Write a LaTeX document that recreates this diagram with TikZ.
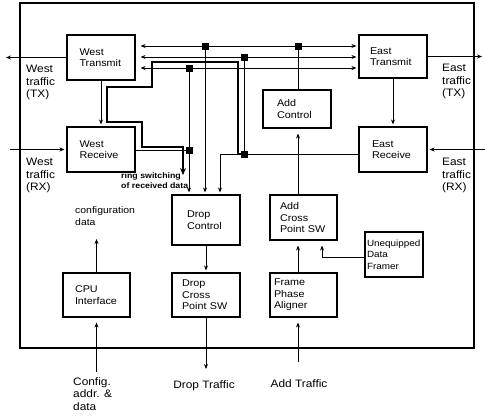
\documentclass[tikz,border=0pt]{standalone}
\usepackage{fontspec}
\setmainfont{Liberation Sans}[FakeStretch=1.1]
\usetikzlibrary{arrows.meta,calc}
\begin{document}
\begin{tikzpicture}[x=1pt,y=-1pt,
  box/.style={draw, line width=1.1pt, align=left, inner ysep=0pt, font=\fontsize{9.8}{11.5}\selectfont},
  conn/.style={line width=0.8pt},
  arr/.style={conn, -{Stealth[length=5pt,width=4pt]}, shorten >=2pt},
  jn/.style={fill=black, inner sep=0pt, minimum size=7pt},
  lbl/.style={align=left, inner sep=0pt, font=\fontsize{10.8}{12.5}\selectfont},
  thickpath/.style={line width=2.6pt, -{Stealth[length=7pt,width=6pt]}},
]
\useasboundingbox (0,0) rectangle (485,416);
% outer frame
\node[draw, line width=1.1pt, minimum width=454pt, minimum height=345pt, inner sep=0pt] (frame) at (247,175.5) {};

% blocks
\node[box, text width=43pt, inner xsep=12.5pt, minimum height=45pt] (WT) at (101,57.5) {West\\Transmit};
\node[box, text width=43pt, inner xsep=12.5pt, minimum height=45pt] (WR) at (101,149.5) {West\\Receive};
\node[box, text width=46pt, inner xsep=11pt, minimum height=43pt] (ET) at (393,56.5) {East\\Transmit};
\node[box, text width=42pt, inner xsep=13pt, minimum height=45pt] (ER) at (393,149.5) {East\\Receive};
\node[box, text width=40pt, inner xsep=14pt, minimum height=38pt] (AC) at (297,109) {Add\\Control};
\node[box, text width=38pt, inner xsep=15pt, minimum height=50pt] (DC) at (206,220) {Drop\\Control};
\node[box, text width=48pt, inner xsep=10pt, minimum height=44pt] (DX) at (206,295) {Drop\\Cross\\Point SW};
\node[box, text width=43pt, inner xsep=12pt, minimum height=44pt] (CPU) at (96.5,295) {CPU\\Interface};
\node[box, text width=47pt, inner xsep=10pt, minimum height=45pt] (AX) at (303.5,217.5) {Add\\Cross\\Point SW};
\node[box, text width=54pt, inner xsep=2pt, minimum height=45pt, font=\fontsize{9}{11.5}\selectfont] (UDF) at (394,254.5) {Unequipped\\Data\\Framer};
\node[box, text width=59pt, inner xsep=4pt, minimum height=44pt] (FPA) at (303.5,295) {Frame\\Phase\\Aligner};

% junctions
\node[jn] (J1) at (205,46) {};
\node[jn] (J2) at (298,46) {};
\node[jn] (J3) at (244,57) {};
\node[jn] (J4) at (189,68) {};
\node[jn] (J5) at (189,150) {};
\node[jn] (J6) at (244,154) {};

% free ends
\coordinate (wtx) at (4,57.5);
\coordinate (wrx) at (10,149.5);
\coordinate (etx) at (484,56.5);
\coordinate (erx) at (485,149.5);
\coordinate (dtx) at (206,371);
\coordinate (cfg) at (96.5,237);
\coordinate (cin) at (96.5,372);
\coordinate (atx) at (298,362);
\coordinate (rsw) at (183,175);

% bus lines
\draw[conn, {Stealth[length=5pt,width=4pt]}-{Stealth[length=5pt,width=4pt]}, shorten <=5pt, shorten >=2pt] (WT.east |- J1) -- (ET.west |- J1);
\draw[conn, {Stealth[length=5pt,width=4pt]}-{Stealth[length=5pt,width=4pt]}, shorten <=5pt, shorten >=2pt] (WT.east |- J3) -- (ET.west |- J3);
\draw[conn, {Stealth[length=5pt,width=4pt]}-{Stealth[length=5pt,width=4pt]}, shorten <=5pt, shorten >=2pt] (WT.east |- J4) -- (ET.west |- J4);

% verticals to drop control
\draw[arr] (J1.center) -- (J1 |- DC.north);
\draw[arr] (J4.center) -- (J4 |- DC.north);
\draw[conn] (J3.center) -- (J6.center);
\draw[arr] (J6.center) -| ($(DC.north)+(14,0)$);
\draw[conn] (WR.east |- J5) -- (J5.center);
\draw[conn] (ER.west |- J6) -- (J6.center);

% ring switching path
\draw[thickpath] (J6.center) -- (238,154) -- (238,62) -- (152,62) -- (152,87) -- (107,87) -- (107,122) -- (142,122) -- (142,147) -- (183,147) -- (rsw);

% block to block
\draw[arr] (WT) -- (WR);
\draw[arr] (ET) -- (ER);
\draw[arr] (DC) -- (DX);
\draw[arr] (DX) -- (dtx);
\draw[arr] (CPU) -- (cfg);
\draw[arr, shorten >=5pt] (cin) -- (CPU);
\draw[arr, shorten >=5pt] (atx) -- (atx |- FPA.south);
\draw[arr, shorten >=5pt] (FPA.north -| J2) -- (AX.south -| J2);
\draw[arr, shorten >=5pt] (AX.north -| J2) -- (AC.south -| J2);
\draw[conn] (AC.north -| J2) -- (J2.center);
\draw[arr, shorten >=5pt] ([yshift=-2.5pt]UDF.west) -| ($(AX.south)+(18.5,0)$);

% external lines
\draw[arr] (WT.west) -- (wtx);
\draw[arr] (wrx) -- (WR.west);
\draw[arr] (ET.east) -- (etx);
\draw[arr] (erx) -- (ER.east);

% labels
\node[lbl, anchor=north west] (lwtx) at (26,65) {West\\traffic\\(TX)};
\node[lbl, anchor=north west] (lwrx) at (26,158) {West\\traffic\\(RX)};
\node[lbl, anchor=north west] (letx) at (442,64) {East\\traffic\\(TX)};
\node[lbl, anchor=north west] (lerx) at (442,158) {East\\traffic\\(RX)};
\node[lbl, anchor=north west, font=\fontsize{9.5}{12}\selectfont] (lcfg) at (75,206) {configuration\\data};
\node[lbl, anchor=north] (ldrop) at (204,380) {Drop Traffic};
\node[lbl, anchor=north] (ladd) at (299,379) {Add Traffic};
\node[lbl, anchor=north west] (lcin) at (73,377) {Config.\\addr. \&\\data};
\node[lbl, anchor=north west, font=\bfseries\fontsize{8}{10}\selectfont] (lrsw) at (121,172) {ring switching\\of received data};
\end{tikzpicture}
\end{document}
